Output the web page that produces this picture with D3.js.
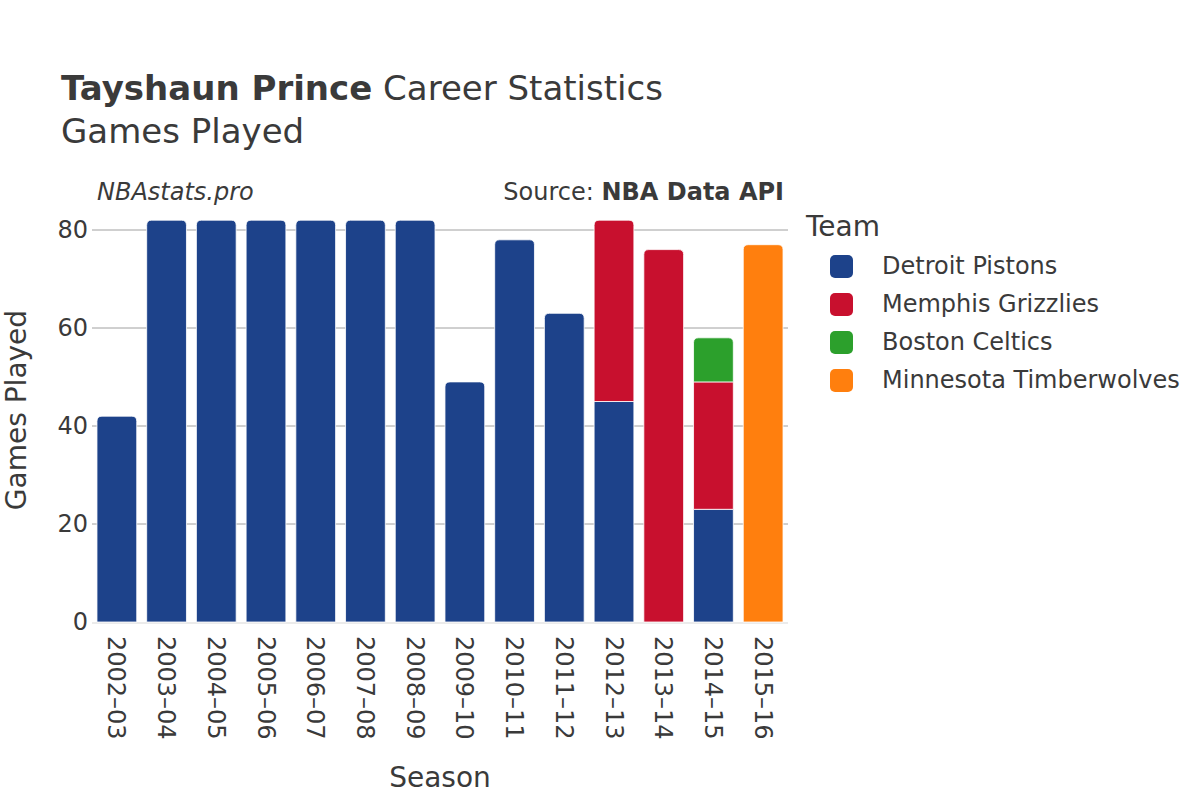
<!DOCTYPE html>
<html><head><meta charset="utf-8">
<script src="https://cdn.jsdelivr.net/npm/d3@7"></script>
<style>body{margin:0;background:#fff;} text{font-family:"DejaVu Sans",sans-serif;fill:#3a3a3a;}</style>
</head><body>
<svg id="chart" width="1200" height="800"></svg>
<script>
const seasons = ["2002–03","2003–04","2004–05","2005–06","2006–07","2007–08","2008–09","2009–10","2010–11","2011–12","2012–13","2013–14","2014–15","2015–16"];
const teams = ["Detroit Pistons","Memphis Grizzlies","Boston Celtics","Minnesota Timberwolves"];
const teamColors = ["#1d428a","#c8102e","#2ca02c","#ff7f0e"];
const detroit   = [42,82,82,82,82,82,82,49,78,63,45,0,23,0];
const memphis   = [0,0,0,0,0,0,0,0,0,0,37,76,26,0];
const boston    = [0,0,0,0,0,0,0,0,0,0,0,0,9,0];
const minnesota = [0,0,0,0,0,0,0,0,0,0,0,0,0,77];
const yTicks = [0,20,40,60,80];

const series = [detroit, memphis, boston, minnesota];
const svg = d3.select("#chart");
const m = {left:92, right:788, top:210, bottom:622};
const x = d3.scaleBand().domain(seasons).range([m.left, m.right]).paddingInner(0.2).paddingOuter(0.1);
const y = d3.scaleLinear().domain([0,84]).range([m.bottom, m.bottom - 84*4.9]);

// gridlines
svg.append("g").selectAll("line").data(yTicks.filter(d=>d>0)).join("line")
  .attr("x1", m.left).attr("x2", m.right)
  .attr("y1", d=>y(d)).attr("y2", d=>y(d))
  .attr("stroke", "#a0a0a0").attr("stroke-width", 1);
svg.append("line").attr("x1", m.left).attr("x2", m.right)
  .attr("y1", y(0)+1).attr("y2", y(0)+1).attr("stroke", "#ebebeb").attr("stroke-width", 2);

// stacked bars
const segs = [];
seasons.forEach((s, i) => {
  let base = 0;
  const vals = series.map(a => a[i]);
  const lastIdx = vals.reduce((acc, v, k) => v > 0 ? k : acc, -1);
  vals.forEach((v, k) => {
    if (v > 0) { segs.push({s, k, y0: base, y1: base + v, top: k === lastIdx}); base += v; }
  });
});
function segPath(d) {
  const x0 = x(d.s), w = x.bandwidth();
  const yt = y(d.y1), yb = y(d.y0);
  const r = d.top ? Math.min(5, (yb-yt)/2) : 0;
  return `M${x0},${yb} L${x0},${yt+r} Q${x0},${yt} ${x0+r},${yt} L${x0+w-r},${yt} Q${x0+w},${yt} ${x0+w},${yt+r} L${x0+w},${yb} Z`;
}
svg.append("g").selectAll("path").data(segs).join("path")
  .attr("d", segPath).attr("fill", d => teamColors[d.k])
  .attr("stroke", "#ffffff").attr("stroke-width", 0.8);

// y axis labels
svg.append("g").selectAll("text").data(yTicks).join("text")
  .attr("x", 88).attr("y", d => y(d)).attr("dy", "0.35em")
  .attr("text-anchor", "end").attr("font-size", 24).text(d => d);

// x axis labels
svg.append("g").selectAll("text").data(seasons).join("text")
  .attr("transform", d => `translate(${x(d)+x.bandwidth()/2},636) rotate(90)`)
  .attr("dy", "0.35em").attr("text-anchor", "start").attr("font-size", 24).text(d => d);

// axis titles
svg.append("text").attr("x", 440).attr("y", 787).attr("text-anchor", "middle").attr("font-size", 28).text("Season");
svg.append("text").attr("transform", "translate(26,410) rotate(-90)").attr("text-anchor", "middle").attr("font-size", 28).text("Games Played");

// title
const t = svg.append("text").attr("x", 61).attr("y", 100).attr("font-size", 34);
t.append("tspan").attr("font-weight", "bold").text("Tayshaun Prince");
t.append("tspan").text(" Career Statistics");
svg.append("text").attr("x", 61).attr("y", 143).attr("font-size", 34).text("Games Played");

svg.append("text").attr("x", 97).attr("y", 200).attr("font-size", 24).attr("font-style", "italic").text("NBAstats.pro");
const src = svg.append("text").attr("x", 784).attr("y", 200).attr("font-size", 24).attr("text-anchor", "end");
src.append("tspan").text("Source: ");
src.append("tspan").attr("font-weight", "bold").text("NBA Data API");

// legend
svg.append("text").attr("x", 806).attr("y", 236).attr("font-size", 28).text("Team");
const lg = svg.append("g").selectAll("g").data(teams).join("g")
  .attr("transform", (d, i) => `translate(830,${266 + i*38})`);
lg.append("rect").attr("x", 0).attr("y", -11).attr("width", 23).attr("height", 23).attr("rx", 5)
  .attr("fill", (d, i) => teamColors[i]);
lg.append("text").attr("x", 52).attr("dy", "0.35em").attr("font-size", 24).text(d => d);
</script>
</body></html>
